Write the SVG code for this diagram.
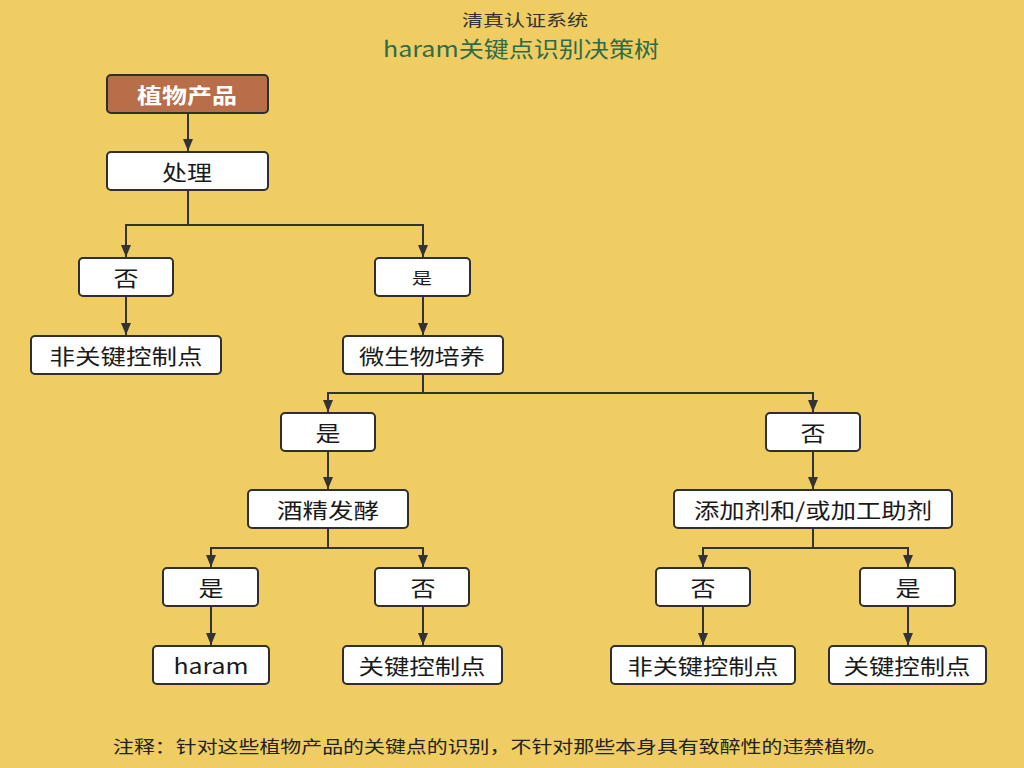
<svg xmlns="http://www.w3.org/2000/svg" width="1024" height="768" viewBox="0 0 1024 768">
<style>
text{font-family:"Noto Sans CJK SC","Liberation Sans",sans-serif;}
.box{fill:#ffffff;stroke:#2f2f2f;stroke-width:2;}
.root{fill:#B86E48;stroke:#2f2f2f;stroke-width:2;}
.lbl{font-size:21px;fill:#1a1a1a;text-anchor:middle;dominant-baseline:central;}
.conn{fill:none;stroke:#333333;stroke-width:2;}
.ah{fill:#333333;}
</style>
<rect width="1024" height="768" fill="#EFCD62"/>
<text x="525" y="19" font-size="16" fill="#333333" text-anchor="middle" dominant-baseline="central" textLength="126" lengthAdjust="spacingAndGlyphs">清真认证系统</text>
<text x="521" y="47" font-size="22" fill="#2E6B4B" text-anchor="middle" dominant-baseline="central" textLength="276" lengthAdjust="spacingAndGlyphs">haram关键点识别决策树</text>

<g id="connectors">
<path class="conn" d="M188,113 V152"/>
<path class="conn" d="M188,190 V225 H126 V258"/>
<path class="conn" d="M188,225 H423 V258"/>
<path class="conn" d="M126,296 V336"/>
<path class="conn" d="M423,296 V336"/>
<path class="conn" d="M423,374 V393 H328 V413"/>
<path class="conn" d="M423,393 H813 V413"/>
<path class="conn" d="M328,451 V490"/>
<path class="conn" d="M813,451 V490"/>
<path class="conn" d="M328,528 V548 H211 V568"/>
<path class="conn" d="M328,548 H423 V568"/>
<path class="conn" d="M813,528 V548 H703 V568"/>
<path class="conn" d="M813,548 H908 V568"/>
<path class="conn" d="M211,606 V646"/>
<path class="conn" d="M423,606 V646"/>
<path class="conn" d="M703,606 V646"/>
<path class="conn" d="M908,606 V646"/>
<path class="ah" d="M183,139 L193,139 L188,151 Z"/>
<path class="ah" d="M121,245 L131,245 L126,257 Z"/>
<path class="ah" d="M418,245 L428,245 L423,257 Z"/>
<path class="ah" d="M121,323 L131,323 L126,335 Z"/>
<path class="ah" d="M418,323 L428,323 L423,335 Z"/>
<path class="ah" d="M323,400 L333,400 L328,412 Z"/>
<path class="ah" d="M808,400 L818,400 L813,412 Z"/>
<path class="ah" d="M323,477 L333,477 L328,489 Z"/>
<path class="ah" d="M808,477 L818,477 L813,489 Z"/>
<path class="ah" d="M206,555 L216,555 L211,567 Z"/>
<path class="ah" d="M418,555 L428,555 L423,567 Z"/>
<path class="ah" d="M698,555 L708,555 L703,567 Z"/>
<path class="ah" d="M903,555 L913,555 L908,567 Z"/>
<path class="ah" d="M206,633 L216,633 L211,645 Z"/>
<path class="ah" d="M418,633 L428,633 L423,645 Z"/>
<path class="ah" d="M698,633 L708,633 L703,645 Z"/>
<path class="ah" d="M903,633 L913,633 L908,645 Z"/>
</g>

<g id="n-root"><rect class="root" x="107" y="75" width="161" height="38" rx="4"/><text class="lbl" x="187" y="94" style="fill:#ffffff;font-weight:bold" textLength="100" lengthAdjust="spacingAndGlyphs">植物产品</text></g>
<g id="n-process"><rect class="box" x="107" y="152" width="161" height="38" rx="4"/><text class="lbl" x="187" y="171" textLength="50" lengthAdjust="spacingAndGlyphs">处理</text></g>
<g id="n-no1"><rect class="box" x="79" y="258" width="94" height="38" rx="4"/><text class="lbl" x="126" y="277" textLength="25" lengthAdjust="spacingAndGlyphs">否</text></g>
<g id="n-yes1"><rect class="box" x="375" y="258" width="95" height="38" rx="4"/><text class="lbl" x="422" y="277" style="font-size:16px" textLength="20" lengthAdjust="spacingAndGlyphs">是</text></g>
<g id="n-noncp1"><rect class="box" x="31" y="336" width="190" height="38" rx="4"/><text class="lbl" x="126" y="355" textLength="153" lengthAdjust="spacingAndGlyphs">非关键控制点</text></g>
<g id="n-micro"><rect class="box" x="343" y="336" width="160" height="38" rx="4"/><text class="lbl" x="422" y="355" textLength="126" lengthAdjust="spacingAndGlyphs">微生物培养</text></g>
<g id="n-yes2"><rect class="box" x="281" y="413" width="94" height="38" rx="4"/><text class="lbl" x="328" y="432" textLength="25" lengthAdjust="spacingAndGlyphs">是</text></g>
<g id="n-no2"><rect class="box" x="766" y="413" width="94" height="38" rx="4"/><text class="lbl" x="813" y="432" textLength="25" lengthAdjust="spacingAndGlyphs">否</text></g>
<g id="n-alcohol"><rect class="box" x="248" y="490" width="160" height="38" rx="4"/><text class="lbl" x="328" y="509" textLength="102" lengthAdjust="spacingAndGlyphs">酒精发酵</text></g>
<g id="n-additive"><rect class="box" x="674" y="490" width="278" height="38" rx="4"/><text class="lbl" x="813" y="509" textLength="238" lengthAdjust="spacingAndGlyphs">添加剂和/或加工助剂</text></g>
<g id="n-yes3"><rect class="box" x="163" y="568" width="95" height="38" rx="4"/><text class="lbl" x="211" y="587" textLength="25" lengthAdjust="spacingAndGlyphs">是</text></g>
<g id="n-no3"><rect class="box" x="375" y="568" width="94" height="38" rx="4"/><text class="lbl" x="423" y="587" textLength="25" lengthAdjust="spacingAndGlyphs">否</text></g>
<g id="n-no4"><rect class="box" x="656" y="568" width="94" height="38" rx="4"/><text class="lbl" x="703" y="587" textLength="25" lengthAdjust="spacingAndGlyphs">否</text></g>
<g id="n-yes4"><rect class="box" x="860" y="568" width="95" height="38" rx="4"/><text class="lbl" x="908" y="587" textLength="25" lengthAdjust="spacingAndGlyphs">是</text></g>
<g id="n-haram"><rect class="box" x="153" y="646" width="116" height="38" rx="4"/><text class="lbl" x="211" y="665" textLength="75" lengthAdjust="spacingAndGlyphs">haram</text></g>
<g id="n-ccp1"><rect class="box" x="343" y="646" width="159" height="38" rx="4"/><text class="lbl" x="422" y="665" textLength="127" lengthAdjust="spacingAndGlyphs">关键控制点</text></g>
<g id="n-noncp2"><rect class="box" x="611" y="646" width="184" height="38" rx="4"/><text class="lbl" x="703" y="665" textLength="151" lengthAdjust="spacingAndGlyphs">非关键控制点</text></g>
<g id="n-ccp2"><rect class="box" x="829" y="646" width="157" height="38" rx="4"/><text class="lbl" x="907" y="665" textLength="127" lengthAdjust="spacingAndGlyphs">关键控制点</text></g>

<text x="113" y="745" font-size="17" fill="#222222" dominant-baseline="central" textLength="774" lengthAdjust="spacingAndGlyphs">注释：针对这些植物产品的关键点的识别，不针对那些本身具有致醉性的违禁植物。</text>
</svg>
